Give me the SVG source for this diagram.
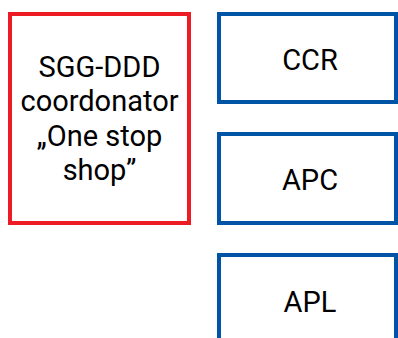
<svg xmlns="http://www.w3.org/2000/svg" width="398" height="338" viewBox="0 0 398 338">
<style>
.red{fill:#fff;stroke:#ED1C24;stroke-width:4}
.blue{fill:#fff;stroke:#0054A6;stroke-width:4}
text{font-family:Roboto,"Liberation Sans",sans-serif;font-size:29px;fill:#000;text-anchor:middle}
</style>
<rect width="398" height="338" fill="#fff"/>
<g id="sgg">
<rect class="red" x="10" y="14" width="179" height="209"/>
<text x="99.5" y="77">SGG-DDD</text>
<text x="99.5" y="111">coordonator</text>
<text x="99.5" y="146">„One stop</text>
<text x="99.5" y="180">shop”</text>
</g>
<g id="ccr">
<rect class="blue" x="219" y="14" width="177" height="88"/>
<text x="310" y="70">CCR</text>
</g>
<g id="apc">
<rect class="blue" x="219" y="134" width="177" height="89"/>
<text x="310" y="190">APC</text>
</g>
<g id="apl">
<rect class="blue" x="219" y="255" width="177" height="100"/>
<text x="310" y="312">APL</text>
</g>
<g id="connectors"></g>
</svg>
